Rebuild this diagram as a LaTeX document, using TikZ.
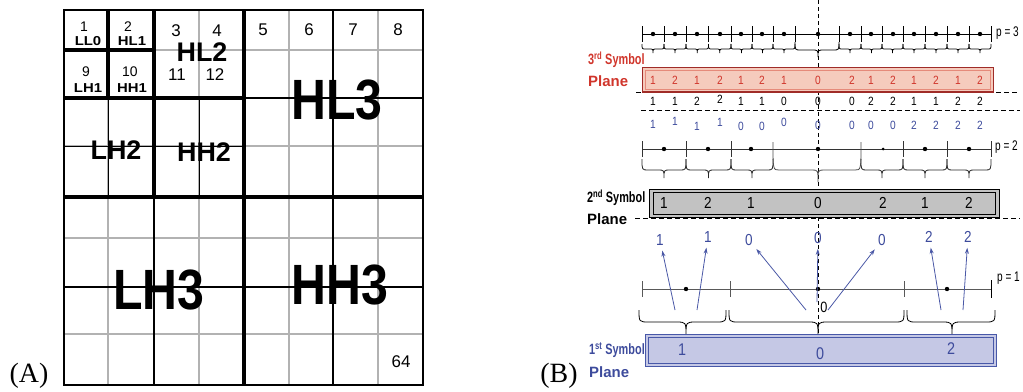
\documentclass[tikz,border=0pt]{standalone}
\usepackage{fontspec}
\setmainfont{Liberation Serif}
\newfontfamily\arialf{Liberation Sans}
\usetikzlibrary{arrows.meta}
\definecolor{redtxt}{HTML}{D0352B}
\definecolor{redfill}{HTML}{F5CBBD}
\definecolor{redline}{HTML}{A02C28}
\definecolor{redinner}{HTML}{E58A7A}
\definecolor{bluetxt}{HTML}{3D4B9C}
\definecolor{bluefill}{HTML}{C5C8E5}
\definecolor{blueline}{HTML}{4858A8}
\definecolor{grayfill}{HTML}{C2C2C2}
\definecolor{arrowblue}{HTML}{4A58A6}
\newcommand\fsz[1]{\fontsize{#1}{#1}\selectfont}
\newcommand\mybrace[8][]{%
  \draw[bracestyle,#1] ({#2},{#5}) .. controls ({#2},{#5+#6}) .. ({#2+#8},{#5+#6})
    -- ({#4-#8},{#5+#6}) .. controls ({#4},{#5+#6}) .. ({#4},{#5+#7})
    .. controls ({#4},{#5+#6}) .. ({#4+#8},{#5+#6})
    -- ({#3-#8},{#5+#6}) .. controls ({#3},{#5+#6}) .. ({#3},{#5});}
\tikzset{
 gthin/.style={gray!60,line width=1.2bp},
 gmid/.style={black,line width=1.6bp},
 gdark/.style={black,line width=1bp},
 gthick/.style={black,line width=4bp},
 cnum/.style={font=\arialf\fsz{14},inner sep=0pt},
 bnum/.style={font=\arialf\fsz{17},inner sep=0pt},
 clab/.style={font=\arialf\bfseries\fsz{13},xscale=1.15,inner sep=0pt},
 mlab/.style={font=\arialf\bfseries\fsz{27},inner sep=0pt},
 hlab/.style={font=\arialf\bfseries\fsz{57},xscale=0.85,inner sep=0pt},
 panel/.style={font=\fsz{28},inner sep=0pt},
 axisline/.style={line width=1bp},
 tickst/.style={line width=0.9bp},
 bracestyle/.style={line width=0.8bp},
 rnum/.style={font=\arialf\fsz{12},text=redtxt,xscale=0.85,inner sep=1bp},
 knum/.style={font=\arialf\fsz{12},xscale=0.85,inner sep=1bp},
 unum/.style={font=\arialf\fsz{12},text=bluetxt,xscale=0.85,inner sep=1bp},
 gnum/.style={font=\arialf\fsz{16},xscale=0.85,inner sep=1bp},
 ubig/.style={font=\arialf\fsz{16},text=bluetxt,xscale=0.85,inner sep=1bp},
 plab/.style={font=\arialf\fsz{14},xscale=0.72,anchor=west,inner sep=0pt},
 symlab/.style={font=\arialf\bfseries\fsz{15},anchor=west,inner sep=0pt},
 hdash/.style={dash pattern=on 5bp off 3bp,line width=0.9bp},
 vdash/.style={dash pattern=on 4bp off 3bp,line width=0.7bp},
 arr/.style={arrowblue,line width=0.8bp,-{Stealth[length=6bp,width=4bp]},shorten >=4bp},
}
\begin{document}
\begin{tikzpicture}[x=1bp,y=-1bp]
\useasboundingbox (0,0) rectangle (1023,391);
% ================= (A) grid =================
\foreach \x in {108,154,199,289,333,378} \draw[gthin] (\x,10) -- (\x,385);
\foreach \y in {50,98,146,238,287,334} \draw[gthin] (64,\y) -- (423,\y);
% level-2 interior of LH2 / HH2
\draw[gdark] (108,98) -- (108,197);
\draw[gdark] (199,98) -- (199,197);
\draw[gdark] (64,146) -- (244,146);
% level-3 middles
\draw[gmid] (333,10) -- (333,385);
\draw[gmid] (244,98) -- (423,98);
\draw[gmid] (154,197) -- (154,385);
\draw[gmid] (64,287) -- (423,287);
% thick subband borders
\draw[gthick] (244,10) -- (244,385);
\draw[gthick] (64,197) -- (423,197);
\draw[gthick] (154,10) -- (154,197);
\draw[gthick] (64,98) -- (244,98);
\draw[gthick] (108,10) -- (108,98);
\draw[gthick] (64,50) -- (154,50);
\draw[black,line width=2.5bp] (64,10) rectangle (423,385);
% labels
\node[cnum] (n1) at (84,27) {1};
\node[clab] (ll0) at (88,41) {LL0};
\node[cnum] (n2) at (128,27) {2};
\node[clab] (hl1) at (132,41) {HL1};
\node[cnum] (n9) at (86,72) {9};
\node[clab] (lh1) at (88,88) {LH1};
\node[cnum] (n10) at (130,72) {10};
\node[clab] (hh1) at (132,88) {HH1};
\node[bnum] (n3) at (176,31) {3};
\node[bnum] (n4) at (217,31) {4};
\node[bnum] (n11) at (177,75) {11};
\node[bnum] (n12) at (215,75) {12};
\node[mlab] (hl2) at (202,52) {HL2};
\node[mlab] (lh2) at (116,150) {LH2};
\node[mlab] (hh2) at (204,152) {HH2};
\node[bnum] (n5) at (263,30) {5};
\node[bnum] (n6) at (309,30) {6};
\node[bnum] (n7) at (353,30) {7};
\node[bnum] (n8) at (398,30) {8};
\node[bnum] (n64) at (401,362) {64};
\node[hlab] (hl3) at (337,100) {HL3};
\node[hlab] (lh3) at (159,290) {LH3};
\node[hlab] (hh3) at (340,285) {HH3};
\node[panel] (pa) at (29,376) {(A)};
\node[panel] (pb) at (559,376) {(B)};
% ================= (B) =================
% dashed centre line and horizontal dashed lines
\draw[vdash] (818,0) -- (818,334);
\draw[hdash] (636,92) -- (1020,92);
\draw[hdash] (641,110) -- (1020,110);
\draw[hdash] (635,218) -- (1020,218);
% ---- p = 3
\draw[axisline] (642,34) -- (991,34);
\foreach \x in {642,664,686,708.5,731,752,773,795,839,861,882,903,925,947,969,991}
  \draw[tickst] (\x,26) -- (\x,42);
\foreach \x in {653,675,697,720,741,762,784,818,850,871,893,914,936,958,980}
  \fill (\x,34) circle (2.2bp);
\foreach \a/\b in {642/664,664/686,686/708.5,708.5/731,731/752,752/773,773/795,839/861,861/882,882/903,903/925,925/947,947/969,969/991}
  {\pgfmathsetmacro\midx{(\a+\b)/2}\mybrace{\a}{\b}{\midx}{44}{5}{9}{4}}
\mybrace{795}{839}{818}{42}{8}{15}{6}
\node[plab] (p3) at (996,33) {p = 3};
% 3rd symbol plane
\fill[redfill] (642,67) rectangle (993,92);
\draw[redline,line width=1bp] (642,67) rectangle (993,92);
\draw[redinner,line width=0.8bp] (645,70) rectangle (990,89);
\draw[redline,line width=1.6bp] (642,92) -- (993,92);
\node[symlab,text=redtxt,xscale=0.73] (s3a) at (588,60) {3\textsuperscript{rd} Symbol};
\node[symlab,text=redtxt] (s3b) at (588,81) {Plane};
\foreach \x/\v [count=\i] in {653/1,675/2,697/1,720/2,741/1,762/2,784/1,818/0,852/2,871/1,893/2,914/1,936/2,958/1,980/2}
  \node[rnum] (r\i) at (\x,80) {\v};
\foreach \x/\y/\v [count=\i] in {653/101/1,675/101/1,697/101/2,720/99/2,741/101/1,762/101/1,784/101/0,818/101/0,852/101/0,871/101/2,893/101/2,914/101/1,936/101/1,958/101/2,980/101/2}
  \node[knum] (k\i) at (\x,\y) {\v};
\foreach \x/\y/\v [count=\i] in {653/124/1,675/121/1,697/126/1,720/122/1,741/126/0,762/126/0,784/122/0,818/125/0,852/125/0,871/125/0,893/125/0,914/125/2,936/125/2,958/125/2,980/125/2}
  \node[unum] (u\i) at (\x,\y) {\v};
% ---- p = 2
\draw[axisline,black!80] (642,149) -- (991,149);
\foreach \x in {642,686,731,903,947,991}
  \draw[tickst,black!80] (\x,141) -- (\x,157);
\foreach \x in {664,708,751,818,925,969}
  \fill (\x,149) circle (2.2bp);
\fill (883,149) circle (1.5bp);
\foreach \a/\b in {642/686,686/731,731/773,861/903,903/947,947/991}
  {\pgfmathsetmacro\midx{(\a+\b)/2}\mybrace[black!85]{\a}{\b}{\midx}{159}{11}{19}{6}}
\mybrace[black!70]{773}{861}{818}{142}{28}{40}{6}
\node[plab] (p2) at (995,147) {p = 2};
% 2nd symbol plane
\fill[grayfill] (649,189) rectangle (999,217);
\draw[black,line width=1bp] (649,189) rectangle (999,217);
\draw[black,line width=0.8bp] (653,192) rectangle (995,214);
\node[symlab,xscale=0.73] (s2a) at (587,198) {2\textsuperscript{nd} Symbol};
\node[symlab] (s2b) at (587,219) {Plane};
\foreach \x/\v [count=\i] in {664/1,708/2,751/1,818/0,883/2,925/1,969/2}
  \node[gnum] (g\i) at (\x,203) {\v};
\foreach \x/\y/\v [count=\i] in {660/240/1,708/237/1,749/240/0,818/238/0,882/240/0,929/237/2,968/237/2}
  \node[ubig] (b\i) at (\x,\y) {\v};
% ---- p = 1
\draw[axisline,black!65] (642,289) -- (991,289);
\foreach \x in {642,730,904}
  \draw[tickst,black!65] (\x,281) -- (\x,297);
\draw[tickst] (991,280) -- (991,298);
\foreach \x in {686,818,947}
  \fill (\x,289) circle (2.2bp);
\mybrace{639}{726}{686}{310}{12}{25}{10}
\mybrace{729}{904}{818}{310}{12}{25}{10}
\mybrace{907}{995}{952}{310}{12}{25}{10}
\node[plab] (p1) at (997,278) {p = 1};
\node[font=\arialf\fsz{15},xscale=0.85,inner sep=0pt] (z0) at (824,307) {0};
% arrows
\coordinate (a1) at (675,310);
\coordinate (a2) at (697,310);
\coordinate (a3) at (806,310);
\coordinate (a4) at (817,302);
\coordinate (a5) at (828,310);
\coordinate (a6) at (941,310);
\coordinate (a7) at (963,310);
\draw[arr] (a1) -- (b1);
\draw[arr] (a2) -- (b2);
\draw[arr] (a3) -- (b3);
\draw[arr] (a4) -- (b4);
\draw[arr] (a5) -- (b5);
\draw[arr] (a6) -- (b6);
\draw[arr] (a7) -- (b7);
% 1st symbol plane
\fill[bluefill] (645,334) rectangle (996,366);
\draw[blueline,line width=1bp] (645,334) rectangle (996,366);
\draw[blueline,line width=0.8bp] (648,337) rectangle (993,363);
\node[symlab,text=bluetxt,xscale=0.73] (s1a) at (589,350) {1\textsuperscript{st} Symbol};
\node[symlab,text=bluetxt] (s1b) at (589,372) {Plane};
\node[ubig,font=\arialf\fsz{17}] (q1) at (682,350) {1};
\node[ubig,font=\arialf\fsz{17}] (q2) at (820,354) {0};
\node[ubig,font=\arialf\fsz{17}] (q3) at (951,349) {2};
\end{tikzpicture}
\end{document}
